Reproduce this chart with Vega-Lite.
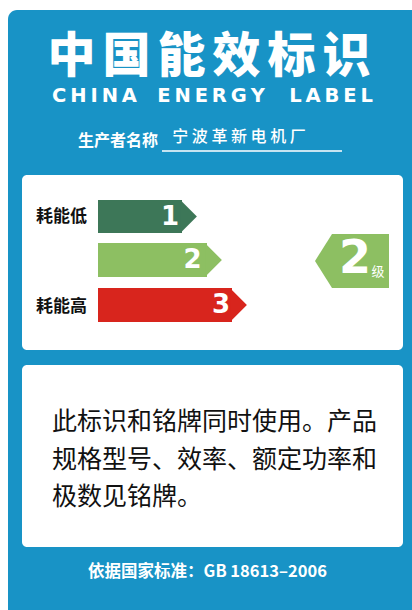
{
  "$schema": "https://vega.github.io/schema/vega-lite/v6.json",
  "width": 412,
  "height": 610,
  "padding": 0,
  "autosize": {"type": "fit", "contains": "padding"},
  "background": "#ffffff",
  "config": {"view": {"stroke": null}},
  "datasets": {
    "panel": [{"x": 8, "x2": 412, "y": 10, "y2": 610}],
    "boxes": [
      {"x": 22, "x2": 403, "y": 175, "y2": 350},
      {"x": 22, "x2": 403, "y": 365, "y2": 547}
    ],
    "title": [
      {"ch": "中", "x": 71.5, "y": 58},
      {"ch": "国", "x": 126.5, "y": 58},
      {"ch": "能", "x": 181.5, "y": 58},
      {"ch": "效", "x": 236.5, "y": 58},
      {"ch": "标", "x": 291.5, "y": 58},
      {"ch": "识", "x": 346.5, "y": 58}
    ],
    "english": [
      {"word": "C\u2009H\u2009I\u2009N\u2009A", "x": 94.5, "y": 96},
      {"word": "E\u2009N\u2009E\u2009R\u2009G\u2009Y", "x": 211, "y": 96},
      {"word": "L\u2009A\u2009B\u2009E\u2009L", "x": 331, "y": 96}
    ],
    "producerLabel": [{"t": "生产者名称", "x": 118, "y": 140.5}],
    "producerName": [{"t": "宁 波 革 新 电 机 厂", "x": 239, "y": 136.5}],
    "underline": [{"x": 162, "x2": 342, "y": 151}],
    "grades": [
      {"grade": 1, "start": 98, "end": 182, "top": 200, "bottom": 233, "mid": 216.5, "numX": 170},
      {"grade": 2, "start": 98, "end": 207, "top": 243, "bottom": 277, "mid": 260, "numX": 192.5},
      {"grade": 3, "start": 98, "end": 232, "top": 288, "bottom": 322, "mid": 305, "numX": 221}
    ],
    "scaleLabels": [
      {"t": "耗能低", "x": 36, "y": 217},
      {"t": "耗能高", "x": 36, "y": 307}
    ],
    "indicator": [{"grade": 2, "x": 352, "y": 261, "numX": 355, "numY": 259, "unitX": 378, "unitY": 272, "unit": "级"}],
    "body": [
      {"t": "此标识和铭牌同时使用。产品", "x": 52, "y": 422},
      {"t": "规格型号、效率、额定功率和", "x": 52, "y": 460},
      {"t": "极数见铭牌。", "x": 52, "y": 497}
    ],
    "footer": [{"t": "依据国家标准：GB 18613–2006", "x": 207.5, "y": 572}]
  },
  "layer": [
    {
      "data": {"name": "panel"},
      "mark": {"type": "rect", "fill": "#1893c6", "cornerRadiusTopLeft": 9},
      "encoding": {
        "x": {"field": "x", "type": "quantitative", "scale": {"domain": [0, 412], "nice": false, "zero": false}, "axis": null},
        "x2": {"field": "x2"},
        "y": {"field": "y", "type": "quantitative", "scale": {"domain": [0, 610], "nice": false, "zero": false, "reverse": true}, "axis": null},
        "y2": {"field": "y2"}
      }
    },
    {
      "data": {"name": "boxes"},
      "mark": {"type": "rect", "fill": "#ffffff", "cornerRadius": 5},
      "encoding": {
        "x": {"field": "x", "type": "quantitative", "axis": null},
        "x2": {"field": "x2"},
        "y": {"field": "y", "type": "quantitative", "axis": null},
        "y2": {"field": "y2"}
      }
    },
    {
      "data": {"name": "title"},
      "mark": {"type": "text", "font": "Noto Sans CJK SC", "fontWeight": 900, "fontSize": 48, "fill": "#ffffff", "align": "center", "baseline": "middle"},
      "encoding": {
        "x": {"field": "x", "type": "quantitative", "axis": null},
        "y": {"field": "y", "type": "quantitative", "axis": null},
        "text": {"field": "ch"}
      }
    },
    {
      "data": {"name": "english"},
      "mark": {"type": "text", "font": "DejaVu Sans", "fontWeight": "bold", "fontSize": 19.5, "fill": "#ffffff", "align": "center", "baseline": "middle"},
      "encoding": {
        "x": {"field": "x", "type": "quantitative", "axis": null},
        "y": {"field": "y", "type": "quantitative", "axis": null},
        "text": {"field": "word"}
      }
    },
    {
      "data": {"name": "producerLabel"},
      "mark": {"type": "text", "font": "Noto Sans CJK SC", "fontWeight": "bold", "fontSize": 16, "fill": "#ffffff", "align": "center", "baseline": "middle"},
      "encoding": {
        "x": {"field": "x", "type": "quantitative", "axis": null},
        "y": {"field": "y", "type": "quantitative", "axis": null},
        "text": {"field": "t"}
      }
    },
    {
      "data": {"name": "producerName"},
      "mark": {"type": "text", "font": "Noto Sans CJK SC", "fontWeight": 500, "fontSize": 16, "fill": "#ffffff", "align": "center", "baseline": "middle"},
      "encoding": {
        "x": {"field": "x", "type": "quantitative", "axis": null},
        "y": {"field": "y", "type": "quantitative", "axis": null},
        "text": {"field": "t"}
      }
    },
    {
      "data": {"name": "underline"},
      "mark": {"type": "rule", "stroke": "#ffffff", "strokeWidth": 1.5},
      "encoding": {
        "x": {"field": "x", "type": "quantitative", "axis": null},
        "x2": {"field": "x2"},
        "y": {"field": "y", "type": "quantitative", "axis": null}
      }
    },
    {
      "data": {"name": "grades"},
      "mark": {"type": "rect"},
      "encoding": {
        "x": {"field": "start", "type": "quantitative", "axis": null},
        "x2": {"field": "end"},
        "y": {"field": "top", "type": "quantitative", "axis": null},
        "y2": {"field": "bottom"},
        "color": {"field": "grade", "type": "nominal", "scale": {"domain": [1, 2, 3], "range": ["#3d7758", "#8dbf62", "#d8251d"]}, "legend": null}
      }
    },
    {
      "data": {"name": "grades"},
      "mark": {"type": "point", "shape": "M-0.1,-1L0.9,0L-0.1,1Z", "size": 1089, "filled": true, "opacity": 1, "strokeWidth": 0},
      "encoding": {
        "x": {"field": "end", "type": "quantitative", "axis": null},
        "y": {"field": "mid", "type": "quantitative", "axis": null},
        "color": {"field": "grade", "type": "nominal", "legend": null}
      }
    },
    {
      "data": {"name": "grades"},
      "mark": {"type": "text", "font": "DejaVu Sans", "fontWeight": "bold", "fontSize": 26, "fill": "#ffffff", "align": "center", "baseline": "middle"},
      "encoding": {
        "x": {"field": "numX", "type": "quantitative", "axis": null},
        "y": {"field": "mid", "type": "quantitative", "axis": null},
        "text": {"field": "grade"}
      }
    },
    {
      "data": {"name": "scaleLabels"},
      "mark": {"type": "text", "font": "Noto Sans CJK SC", "fontWeight": "bold", "fontSize": 17, "fill": "#111111", "align": "left", "baseline": "middle"},
      "encoding": {
        "x": {"field": "x", "type": "quantitative", "axis": null},
        "y": {"field": "y", "type": "quantitative", "axis": null},
        "text": {"field": "t"}
      }
    },
    {
      "data": {"name": "indicator"},
      "mark": {"type": "point", "shape": "M-1,0L-0.54,-0.73L1,-0.73L1,0.73L-0.54,0.73Z", "size": 5476, "filled": true, "opacity": 1, "strokeWidth": 0},
      "encoding": {
        "x": {"field": "x", "type": "quantitative", "axis": null},
        "y": {"field": "y", "type": "quantitative", "axis": null},
        "color": {"field": "grade", "type": "nominal", "legend": null}
      }
    },
    {
      "data": {"name": "indicator"},
      "mark": {"type": "text", "font": "DejaVu Sans", "fontWeight": "bold", "fontSize": 46, "fill": "#ffffff", "align": "center", "baseline": "middle"},
      "encoding": {
        "x": {"field": "numX", "type": "quantitative", "axis": null},
        "y": {"field": "numY", "type": "quantitative", "axis": null},
        "text": {"field": "grade"}
      }
    },
    {
      "data": {"name": "indicator"},
      "mark": {"type": "text", "font": "Noto Sans CJK SC", "fontWeight": "normal", "fontSize": 13, "fill": "#ffffff", "align": "center", "baseline": "middle"},
      "encoding": {
        "x": {"field": "unitX", "type": "quantitative", "axis": null},
        "y": {"field": "unitY", "type": "quantitative", "axis": null},
        "text": {"field": "unit"}
      }
    },
    {
      "data": {"name": "body"},
      "mark": {"type": "text", "font": "Noto Sans CJK SC", "fontWeight": "normal", "fontSize": 25, "fill": "#111111", "align": "left", "baseline": "middle"},
      "encoding": {
        "x": {"field": "x", "type": "quantitative", "axis": null},
        "y": {"field": "y", "type": "quantitative", "axis": null},
        "text": {"field": "t"}
      }
    },
    {
      "data": {"name": "footer"},
      "mark": {"type": "text", "font": "Noto Sans CJK SC", "fontWeight": "bold", "fontSize": 16.5, "fill": "#ffffff", "align": "center", "baseline": "middle"},
      "encoding": {
        "x": {"field": "x", "type": "quantitative", "axis": null},
        "y": {"field": "y", "type": "quantitative", "axis": null},
        "text": {"field": "t"}
      }
    }
  ]
}
